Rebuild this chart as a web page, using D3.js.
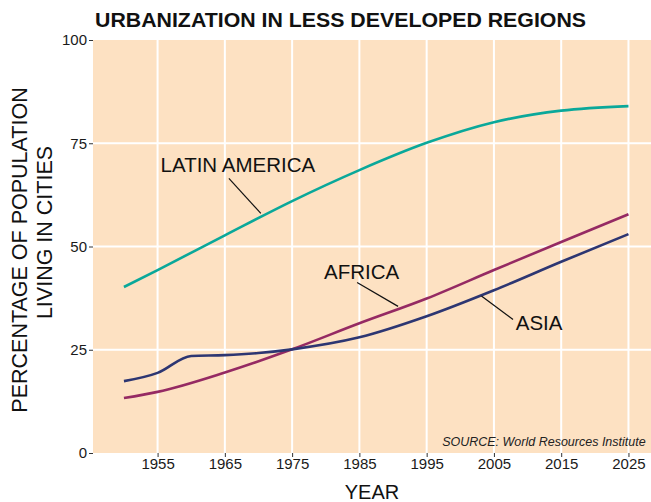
<!DOCTYPE html>
<html>
<head>
<meta charset="utf-8">
<script src="https://cdn.jsdelivr.net/npm/d3@7"></script>
<style>
  body { margin: 0; background: #fff; }
  svg { display: block; font-family: "Liberation Sans", Arial, sans-serif; }
</style>
</head>
<body>
<svg width="651" height="502"></svg>
<script>
// data
const latinYears = [1950, 1955, 1965, 1975, 1985, 1995, 2005, 2015, 2025];
const latinValues = [40.2, 44.3, 52.7, 61.0, 68.5, 75.1, 80.1, 82.9, 84.0];

const africaYears = [1950, 1955, 1965, 1975, 1985, 1995, 2005, 2015, 2025];
const africaValues = [13.3, 14.8, 19.5, 25.1, 31.4, 37.4, 44.3, 51.1, 57.8];

const asiaYears = [1950, 1955, 1960, 1965, 1970, 1975, 1985, 1995, 2005, 2015, 2025];
const asiaValues = [17.4, 19.4, 23.5, 23.7, 24.2, 25.1, 28.0, 33.1, 39.4, 46.3, 53.0];

const xTicks = [1955, 1965, 1975, 1985, 1995, 2005, 2015, 2025];
const yTicks = [0, 25, 50, 75, 100];
const yGrid = [25, 50, 75];

// label text, anchor (year, value) and leader line (data coords)
const labels = [
  { text: 'LATIN AMERICA', x: 1955.45, y: 68.1, line: [[1965.6, 66.5], [1970.35, 58.0]] },
  { text: 'AFRICA', x: 1979.75, y: 42.1, line: [[1984.66, 41.3], [1990.75, 35.5]] },
  { text: 'ASIA', x: 2008.24, y: 29.9, line: [[2003.14, 38.0], [2007.84, 32.3]] }
];

const svg = d3.select('svg');
const width = +svg.attr('width');
const height = +svg.attr('height');

const panel = { left: 93, right: 651, top: 40, bottom: 453 };

const x = d3.scaleLinear()
    .domain([1945.4, 2028.35])
    .range([panel.left, panel.right]);

const y = d3.scaleLinear()
    .domain([0, 100])
    .range([panel.bottom, panel.top]);

svg.append('rect')
    .attr('x', panel.left)
    .attr('y', panel.top)
    .attr('width', panel.right - panel.left)
    .attr('height', panel.bottom - panel.top)
    .attr('fill', '#fde1c2');

// grid
svg.append('g').selectAll('line').data(xTicks)
    .enter().append('line')
    .attr('x1', d => x(d)).attr('x2', d => x(d))
    .attr('y1', panel.top).attr('y2', panel.bottom)
    .attr('stroke', '#fff').attr('stroke-width', 2);

svg.append('g').selectAll('line').data(yGrid)
    .enter().append('line')
    .attr('x1', panel.left).attr('x2', panel.right)
    .attr('y1', d => y(d)).attr('y2', d => y(d))
    .attr('stroke', '#fff').attr('stroke-width', 2);

// axes
const yAxis = svg.append('g')
    .attr('transform', `translate(${panel.left}, 0)`)
    .call(d3.axisLeft(y).tickValues(yTicks).tickSize(4).tickPadding(2));

const xAxis = svg.append('g')
    .attr('transform', `translate(0, ${panel.bottom})`)
    .call(d3.axisBottom(x).tickValues(xTicks).tickFormat(d3.format('d')).tickSize(4).tickPadding(1.5));

[yAxis, xAxis].forEach(a => {
    a.select('.domain').remove();
    a.selectAll('line').attr('stroke', '#333');
    a.selectAll('text')
        .attr('fill', '#1a1a1a')
        .style('font-size', '15px')
        .style('font-family', '"Liberation Sans", Arial, sans-serif');
});

// lines
const line = d3.line()
    .x(d => x(d[0]))
    .y(d => y(d[1]))
    .curve(d3.curveMonotoneX);

const series = [
  { years: latinYears, values: latinValues, color: '#0aa89a' },
  { years: africaYears, values: africaValues, color: '#952a63' },
  { years: asiaYears, values: asiaValues, color: '#2d3672' }
];

series.forEach(s => {
    svg.append('path')
        .datum(s.years.map((yr, i) => [yr, s.values[i]]))
        .attr('d', line)
        .attr('fill', 'none')
        .attr('stroke', s.color)
        .attr('stroke-width', 2.6);
});

// labels
labels.forEach(l => {
    svg.append('text')
        .attr('x', x(l.x))
        .attr('y', y(l.y))
        .attr('fill', '#111')
        .style('font-size', '20.5px')
        .text(l.text);
    svg.append('line')
        .attr('x1', x(l.line[0][0])).attr('y1', y(l.line[0][1]))
        .attr('x2', x(l.line[1][0])).attr('y2', y(l.line[1][1]))
        .attr('stroke', '#111')
        .attr('stroke-width', 1.2);
});

// source
svg.append('text')
    .attr('x', 645.7)
    .attr('y', 445.7)
    .attr('text-anchor', 'end')
    .attr('fill', '#222')
    .style('font-size', '12.5px')
    .style('font-style', 'italic')
    .text('SOURCE: World Resources Institute');

// title
svg.append('text')
    .attr('x', 95)
    .attr('y', 26.5)
    .attr('fill', '#111')
    .attr('textLength', 491)
    .attr('lengthAdjust', 'spacingAndGlyphs')
    .style('font-size', '19.5px')
    .style('font-weight', 'bold')
    .text('URBANIZATION IN LESS DEVELOPED REGIONS');

// axis titles
svg.append('text')
    .attr('x', 372)
    .attr('y', 499)
    .attr('text-anchor', 'middle')
    .attr('fill', '#111')
    .style('font-size', '20px')
    .text('YEAR');

const yTitle = [
  { text: 'PERCENTAGE OF POPULATION', x: 26.5, y: 250 },
  { text: 'LIVING IN CITIES', x: 51.5, y: 232.5 }
];
yTitle.forEach(t => {
    svg.append('text')
        .attr('transform', `translate(${t.x}, ${t.y}) rotate(-90)`)
        .attr('text-anchor', 'middle')
        .attr('fill', '#111')
        .style('font-size', '21.5px')
        .text(t.text);
});
</script>
</body>
</html>
